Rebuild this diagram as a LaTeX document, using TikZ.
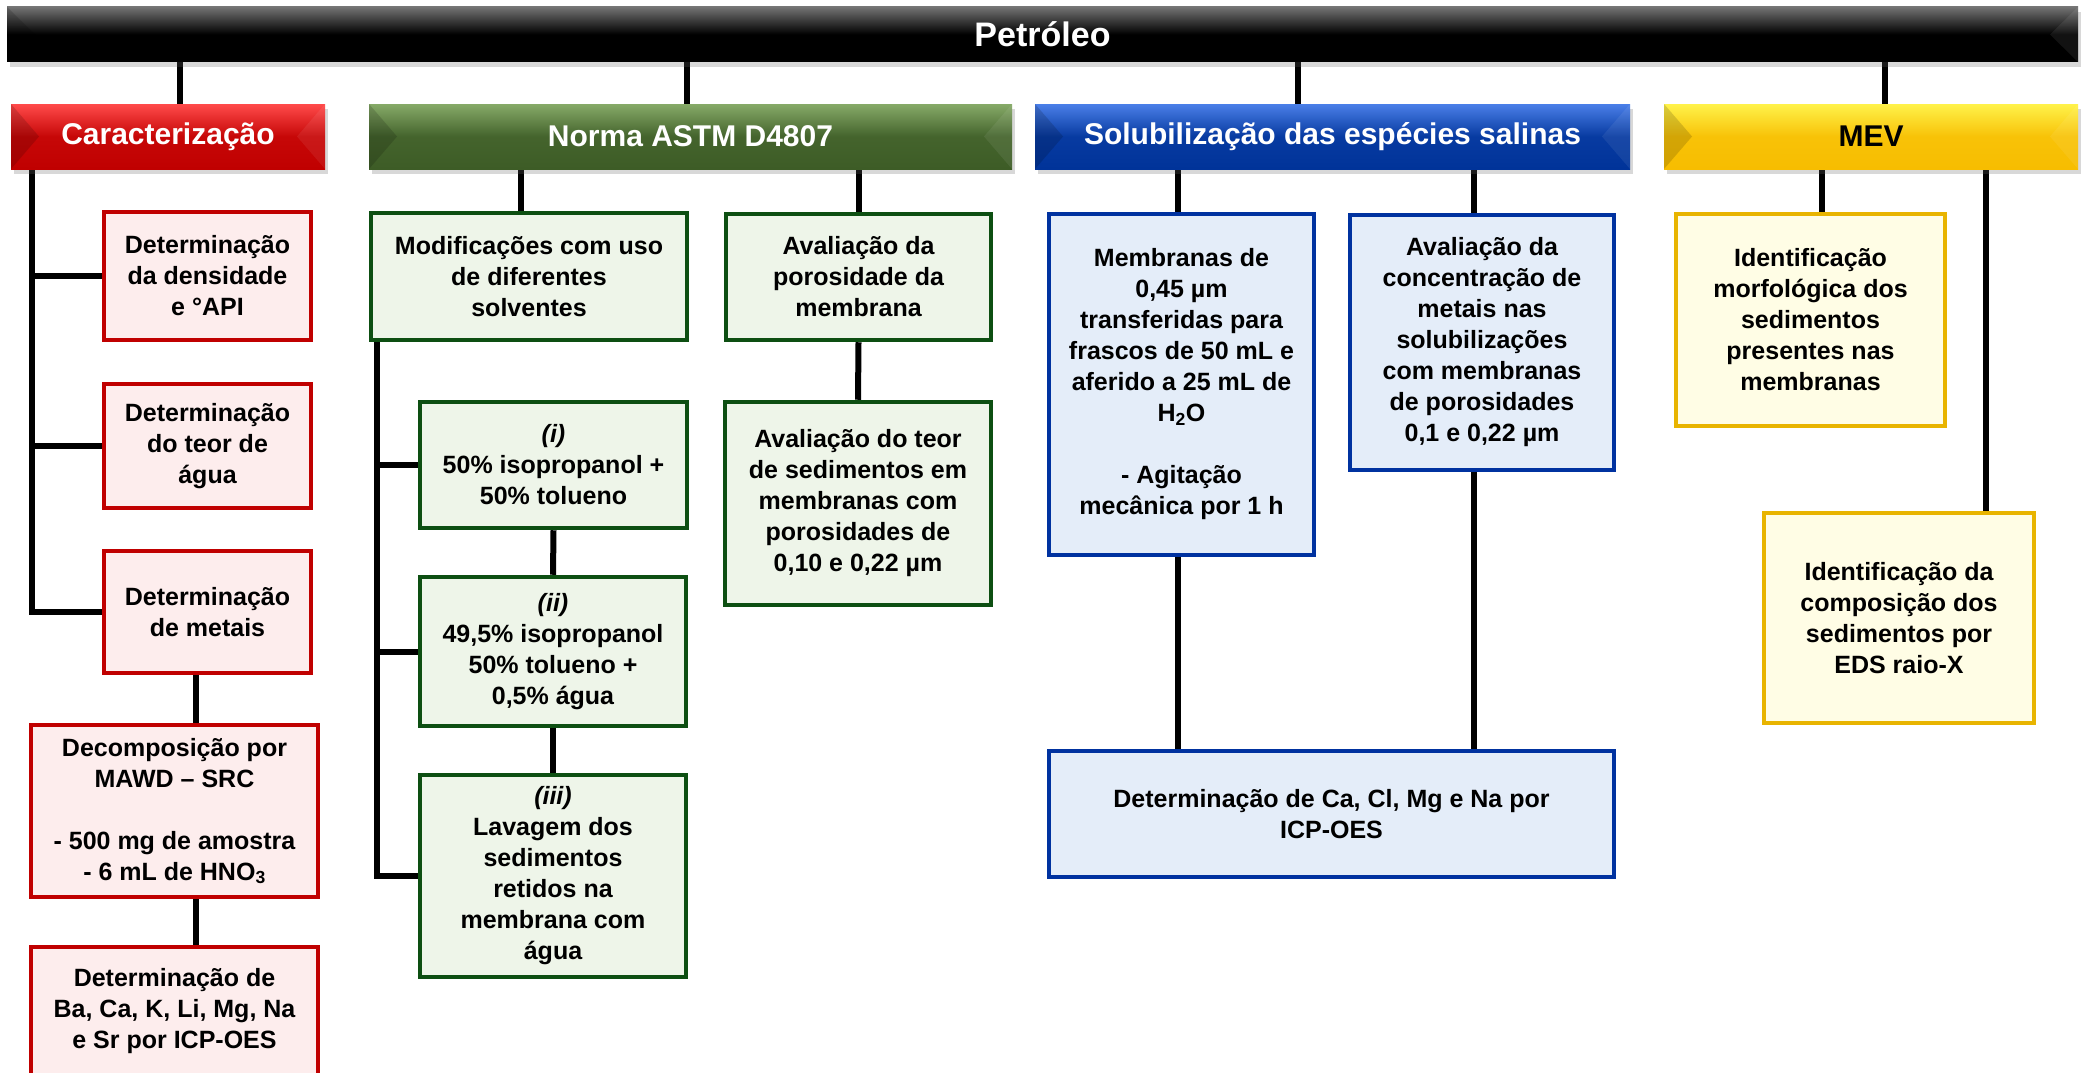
\documentclass[tikz,border=0pt]{standalone}
\usepackage{fontspec}
\setmainfont{Liberation Sans}
\usetikzlibrary{shadows,backgrounds}
\definecolor{cred}{HTML}{C00000}
\definecolor{credl}{HTML}{FDEDED}
\definecolor{cgreen}{HTML}{0D4F12}
\definecolor{cgreenl}{HTML}{EEF5E9}
\definecolor{cblue}{HTML}{0032A0}
\definecolor{cbluel}{HTML}{E4EDF9}
\definecolor{cyel}{HTML}{E8B400}
\definecolor{cyell}{HTML}{FFFDE5}
\definecolor{hredt}{HTML}{FF4A4A}
\definecolor{hgrnt}{HTML}{86AA68}
\definecolor{hgrnb}{HTML}{3D5C26}
\definecolor{hblut}{HTML}{4A7FE8}
\definecolor{hblub}{HTML}{003399}
\definecolor{hyelt}{HTML}{FFF24A}
\definecolor{hyelb}{HTML}{F7BD00}
\newcommand\bodyfont{\fontsize{25}{31}\selectfont\bfseries}
\newcommand\headfont{\fontsize{30}{36}\selectfont\bfseries}
\tikzset{
  conn/.style={line width=6pt},
  hdr/.style={inner sep=0pt, font=\headfont, minimum height=65pt,
    drop shadow={opacity=.25, shadow xshift=3pt, shadow yshift=-5pt, fill=black!60},
    path picture={
      \fill[black,opacity=.15] (path picture bounding box.north west) -- ([xshift=28pt]path picture bounding box.west) -- (path picture bounding box.south west) -- cycle;
      \fill[white,opacity=.07] (path picture bounding box.north east) -- ([xshift=-28pt]path picture bounding box.east) -- (path picture bounding box.south east) -- cycle;}},
  hblack/.style={hdr, top color=black!55, bottom color=black, middle color=black, text=white},
  hred/.style={hdr, top color=hredt, bottom color=cred, middle color=cred!90!hredt, text=white},
  hgreen/.style={hdr, top color=hgrnt, bottom color=hgrnb, middle color=hgrnb!90!hgrnt, text=white},
  hblue/.style={hdr, top color=hblut, bottom color=hblub, middle color=hblub!90!hblut, text=white},
  hyel/.style={hdr, top color=hyelt, bottom color=hyelb, middle color=hyelb!90!hyelt, text=black},
  box/.style={draw, line width=4.5pt, align=center, inner sep=0pt, font=\bodyfont},
  rbox/.style={box, draw=cred, fill=credl},
  gbox/.style={box, draw=cgreen, fill=cgreenl},
  bbox/.style={box, draw=cblue, fill=cbluel},
  ybox/.style={box, draw=cyel, fill=cyell},
}
\begin{document}
\begin{tikzpicture}[x=1pt,y=-1pt]
\useasboundingbox (0,0) rectangle (2085,1073);
% headers
\node[hblack, minimum width=2071pt, minimum height=55pt, font=\fontsize{34}{40}\selectfont\bfseries] (top) at (1042.5,34.5) {Petróleo};
\node[hred, minimum width=314pt] (car) at (168,136.5) {Caracterização};
\node[hgreen, minimum width=643pt] (nor) at (690.5,136.5) {Norma ASTM D4807};
\node[hblue, minimum width=595pt] (sol) at (1332.5,136.5) {Solubilização das espécies salinas};
\node[hyel, minimum width=414pt] (mev) at (1871,136.5) {MEV};
% caracterizacao
\node[rbox, minimum width=207pt, minimum height=128pt] (r1) at (207.5,276) {Determinação\\da densidade\\e °API};
\node[rbox, minimum width=207pt, minimum height=124pt] (r2) at (207.5,446) {Determinação\\do teor de\\água};
\node[rbox, minimum width=207pt, minimum height=122pt] (r3) at (207.5,612) {Determinação\\de metais};
\node[rbox, minimum width=287pt, minimum height=172pt] (r4) at (174.5,811) {Decomposição por\\MAWD – SRC\\[31pt]- 500 mg de amostra\\- 6 mL de HNO\textsubscript{3}};
\node[rbox, minimum width=287pt, minimum height=128pt] (r5) at (174.5,1011) {Determinação de\\Ba, Ca, K, Li, Mg, Na\\e Sr por ICP-OES};
% norma
\node[gbox, minimum width=316pt, minimum height=127pt] (g1) at (529,276.5) {Modificações com uso\\de diferentes\\solventes};
\node[gbox, minimum width=265pt, minimum height=126pt] (g2) at (858.5,277) {Avaliação da\\porosidade da\\membrana};
\node[gbox, minimum width=267pt, minimum height=126pt] (gi) at (553.5,465) {\textit{(i)}\\50\% isopropanol +\\50\% tolueno};
\node[gbox, minimum width=266pt, minimum height=149pt] (gii) at (553,651.5) {\textit{(ii)}\\49,5\% isopropanol\\50\% tolueno +\\0,5\% água};
\node[gbox, minimum width=266pt, minimum height=202pt] (giii) at (553,876) {\textit{(iii)}\\Lavagem dos\\sedimentos\\retidos na\\membrana com\\água};
\node[gbox, minimum width=266pt, minimum height=203pt] (g3) at (858,503.5) {Avaliação do teor\\de sedimentos em\\membranas com\\porosidades de\\0,10 e 0,22 µm};
% solubilizacao
\node[bbox, minimum width=265pt, minimum height=341pt] (b1) at (1181.5,384.5) {Membranas de\\0,45 µm\\transferidas para\\frascos de 50 mL e\\aferido a 25 mL de\\H\textsubscript{2}O\\[31pt]- Agitação\\mecânica por 1 h};
\node[bbox, minimum width=264pt, minimum height=255pt] (b2) at (1482,342.5) {Avaliação da\\concentração de\\metais nas\\solubilizações\\com membranas\\de porosidades\\0,1 e 0,22 µm};
\node[bbox, minimum width=565pt, minimum height=126pt] (b3) at (1331.5,814) {Determinação de Ca, Cl, Mg e Na por\\ICP-OES};
% mev
\node[ybox, minimum width=269pt, minimum height=212pt] (y1) at (1810.5,320) {Identificação\\morfológica dos\\sedimentos\\presentes nas\\membranas};
\node[ybox, minimum width=270pt, minimum height=210pt] (y2) at (1899,618) {Identificação da\\composição dos\\sedimentos por\\EDS raio-X};
% connectors
\coordinate (lcar) at (180,0);
\coordinate (lnor) at (687,0);
\coordinate (lsol) at (1298,0);
\coordinate (lmev) at (1885,0);
\coordinate (lsp1) at (32,0);
\coordinate (lr34) at (196,0);
\coordinate (lg1) at (521,0);
\coordinate (lsp2) at (377,0);
\coordinate (lb1) at (1178,0);
\coordinate (lb2) at (1474,0);
\coordinate (ly1) at (1822,0);
\coordinate (ly2) at (1986,0);
\begin{scope}[on background layer]
\fill[white] (0,0) rectangle (2085,1073);
\draw[conn] (top.south -| lcar) -- (car.north -| lcar);
\draw[conn] (top.south -| lnor) -- (nor.north -| lnor);
\draw[conn] (top.south -| lsol) -- (sol.north -| lsol);
\draw[conn] (top.south -| lmev) -- (mev.north -| lmev);
\draw[conn] (car.south -| lsp1) |- (r3.west);
\draw[conn] (lsp1 |- r1.west) -- (r1.west);
\draw[conn] (lsp1 |- r2.west) -- (r2.west);
\draw[conn] (r3.south -| lr34) -- (r4.north -| lr34);
\draw[conn] (r4.south -| lr34) -- (r5.north -| lr34);
\draw[conn] (nor.south -| lg1) -- (g1.north -| lg1);
\draw[conn] (nor.south -| g2.north) -- (g2.north);
\draw[conn] (g1.south -| lsp2) |- (giii.west);
\draw[conn] (lsp2 |- gi.west) -- (gi.west);
\draw[conn] (lsp2 |- gii.west) -- (gii.west);
\draw[conn] (gi.south) -- (gii.north);
\draw[conn] (gii.south) -- (giii.north);
\draw[conn] (g2.south) -- (g3.north);
\draw[conn] (sol.south -| lb1) -- (b1.north -| lb1);
\draw[conn] (b1.south -| lb1) -- (b3.north -| lb1);
\draw[conn] (sol.south -| lb2) -- (b2.north -| lb2);
\draw[conn] (b2.south -| lb2) -- (b3.north -| lb2);
\draw[conn] (mev.south -| ly1) -- (y1.north -| ly1);
\draw[conn] (mev.south -| ly2) -- (y2.north -| ly2);
\end{scope}
\end{tikzpicture}
\end{document}
